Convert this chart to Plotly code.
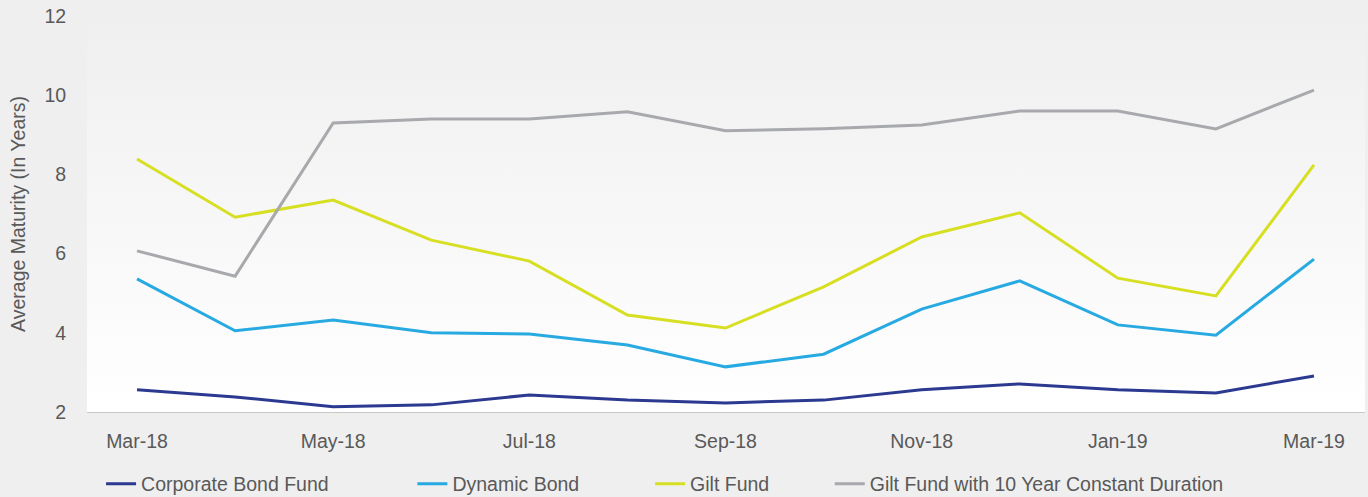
import base64
import plotly.graph_objects as go

months = ["Mar-18", "Apr-18", "May-18", "Jun-18", "Jul-18", "Aug-18", "Sep-18",
          "Oct-18", "Nov-18", "Dec-18", "Jan-19", "Feb-19", "Mar-19"]
tick_labels = ["Mar-18", "May-18", "Jul-18", "Sep-18", "Nov-18", "Jan-19", "Mar-19"]

corporate_bond = [2.56, 2.38, 2.13, 2.18, 2.43, 2.30, 2.23, 2.30, 2.56, 2.71, 2.56, 2.48, 2.91]
dynamic_bond = [5.36, 4.05, 4.32, 4.00, 3.97, 3.69, 3.14, 3.46, 4.60, 5.31, 4.20, 3.94, 5.86]
gilt_fund = [8.39, 6.92, 7.35, 6.34, 5.81, 4.45, 4.12, 5.16, 6.42, 7.03, 5.38, 4.93, 8.24]
gilt_10y = [6.07, 5.43, 9.30, 9.40, 9.40, 9.58, 9.10, 9.15, 9.25, 9.60, 9.60, 9.15, 10.13]

series = [
    ("Corporate Bond Fund", corporate_bond, "#2b3990", "legend", 0.011),
    ("Dynamic Bond", dynamic_bond, "#27aae1", "legend2", 0.2546),
    ("Gilt Fund", gilt_fund, "#d7df23", "legend3", 0.4406),
    ("Gilt Fund with 10 Year Constant Duration", gilt_10y, "#a7a9ac", "legend4", 0.5812),
]

FONT = "Liberation Sans, Arial, sans-serif"
TXT = "#595959"
FS = 19.5

fig = go.Figure()
for name, vals, color, leg, _ in series:
    fig.add_trace(go.Scatter(
        x=list(range(len(months))), y=vals, name=name, mode="lines",
        line=dict(color=color, width=3), legend=leg, showlegend=True,
    ))

# soft vertical gradient behind the plot area
svg = ('<svg xmlns="http://www.w3.org/2000/svg" width="10" height="100" preserveAspectRatio="none">'
       '<defs><linearGradient id="g" x1="0" y1="0" x2="0" y2="1">'
       '<stop offset="0" stop-color="#efefef"/><stop offset="1" stop-color="#ffffff"/>'
       '</linearGradient></defs><rect width="10" height="100" fill="url(#g)"/></svg>')
src = "data:image/svg+xml;base64," + base64.b64encode(svg.encode()).decode()

legend_common = dict(orientation="h", yref="container", yanchor="middle", y=0.026,
                     xanchor="left", bgcolor="rgba(0,0,0,0)",
                     font=dict(family=FONT, size=FS, color=TXT),
                     itemwidth=30, tracegroupgap=0)
legends = {}
for _, _, _, leg, xpos in series:
    legends[leg] = dict(legend_common, x=xpos)

fig.update_layout(
    width=1368, height=497,
    margin=dict(l=87, r=3, t=16, b=85),
    paper_bgcolor="#efefef",
    plot_bgcolor="rgba(0,0,0,0)",
    showlegend=True,
    font=dict(family=FONT, size=FS, color=TXT),
    images=[dict(source=src, xref="paper", yref="paper", x=0, y=1, sizex=1, sizey=1,
                 xanchor="left", yanchor="top", sizing="stretch", layer="below")],
    **legends,
)

fig.update_xaxes(
    range=[-0.51, 12.52], automargin=False,
    tickmode="array", tickvals=list(range(0, 13, 2)), ticktext=tick_labels,
    ticks="outside", ticklen=12, tickcolor="rgba(0,0,0,0)",
    showgrid=False, zeroline=False,
    showline=True, linecolor="#c8c8c8", linewidth=1,
    tickfont=dict(family=FONT, size=FS, color=TXT),
)
fig.update_yaxes(
    range=[2, 12], dtick=2, automargin=False,
    ticks="outside", ticklen=16, tickcolor="rgba(0,0,0,0)",
    showgrid=False, zeroline=False, showline=False,
    title=dict(text="Average Maturity (In Years)", font=dict(family=FONT, size=FS, color=TXT), standoff=13),
    tickfont=dict(family=FONT, size=FS, color=TXT),
)

fig.write_html(
    "out.html",
    config={"displayModeBar": False},
    post_script="document.body.style.margin='0';document.body.style.overflow='hidden';"
                "document.body.style.background='#efefef';",
)
